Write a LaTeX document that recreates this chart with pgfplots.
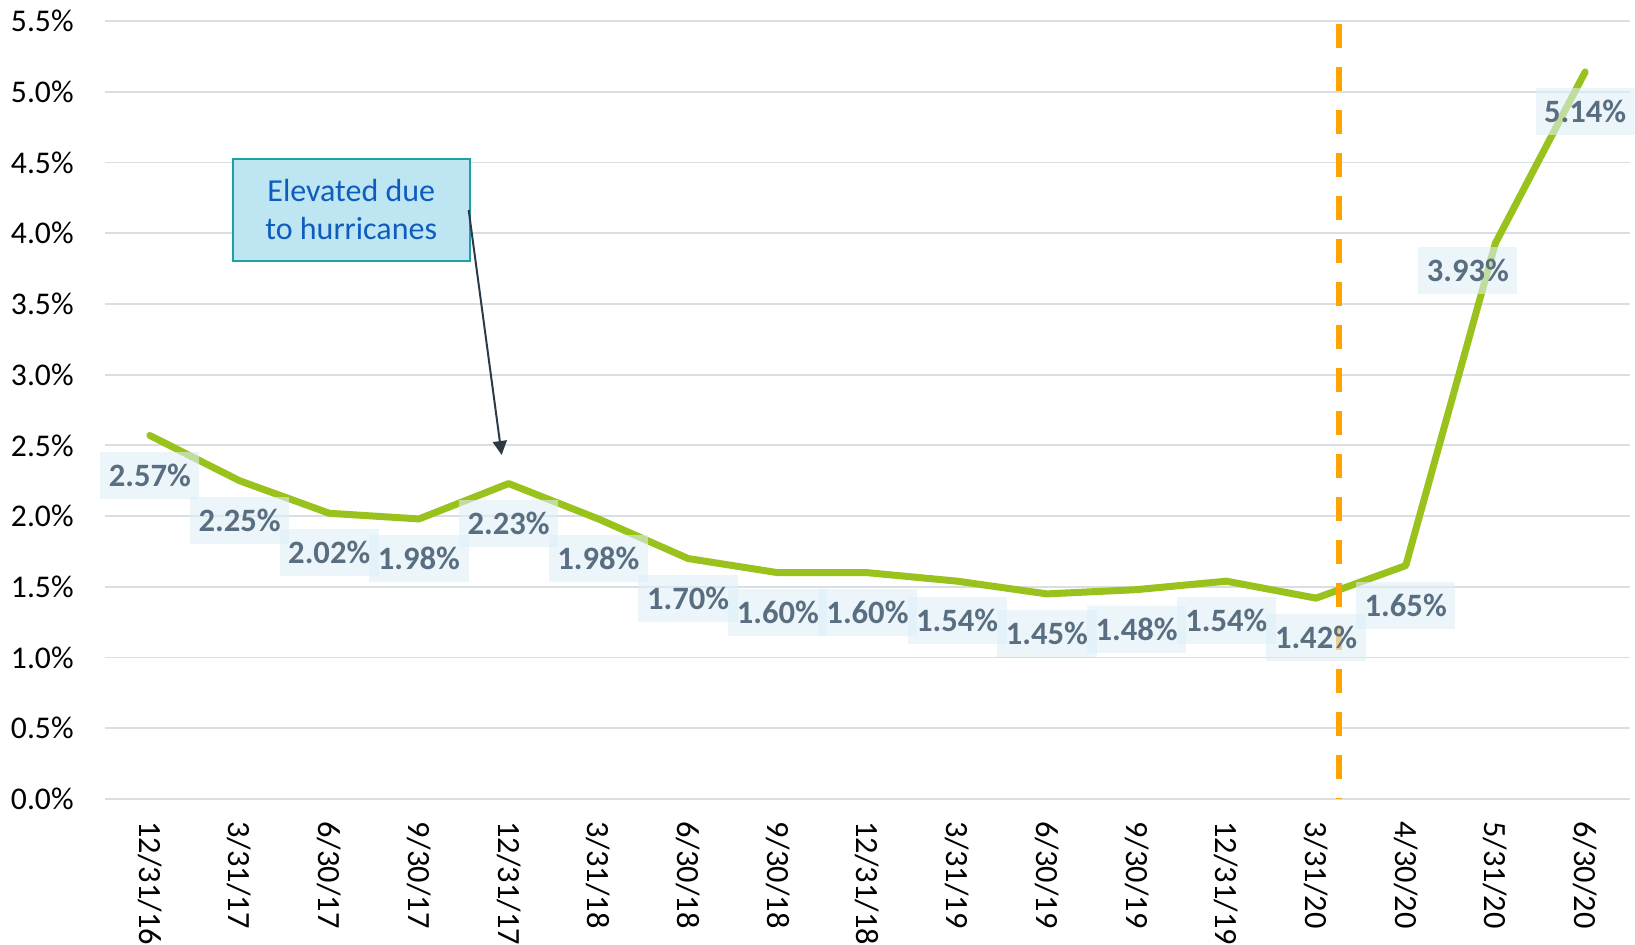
\documentclass[border=0pt]{standalone}
\usepackage{fontspec}
\setmainfont{Carlito}
\usepackage{pgfplots}
\usepackage{pgfplotstable}
\pgfplotsset{compat=1.18}
\usetikzlibrary{arrows.meta}
\definecolor{linegreen}{RGB}{153,194,28}
\definecolor{labelgray}{RGB}{89,110,128}
\definecolor{labelfill}{RGB}{222,238,247}
\definecolor{gridgray}{RGB}{217,222,227}
\definecolor{boxfill}{RGB}{190,230,242}
\definecolor{boxdraw}{RGB}{30,160,165}
\definecolor{boxtext}{RGB}{15,92,191}
\definecolor{arrowc}{RGB}{44,58,70}
\definecolor{dashorange}{RGB}{255,163,0}

\pgfplotstableread{
x y dx dy
0 2.57 0 -19.8
1 2.25 0 -19.8
2 2.02 0 -19.8
3 1.98 0 -19.8
4 2.23 0 -19.8
5 1.98 0 -19.8
6 1.70 0 -19.8
7 1.60 0 -19.8
8 1.60 0 -19.8
9 1.54 0 -19.8
10 1.45 0 -19.8
11 1.48 0 -19.8
12 1.54 0 -19.8
13 1.42 0 -19.8
14 1.65 0 -19.8
15 3.93 -13.8 -13.8
16 5.14 0 -19.8
}\datatable

\begin{document}
\begin{tikzpicture}
\useasboundingbox (-52.5pt,-72.5pt) rectangle (765pt,399.5pt);
\begin{axis}[
  at={(0,0)}, anchor=south west,
  scale only axis, width=762.5pt, height=389pt,
  xmin=-0.5, xmax=16.5, ymin=0, ymax=5.5,
  clip=false,
  axis line style={draw=none},
  tick style={draw=none},
  ymajorgrids, grid style={gridgray, line width=0.9pt},
  ytick={0,0.5,1,1.5,2,2.5,3,3.5,4,4.5,5,5.5},
  yticklabel={\pgfmathprintnumber[fixed,fixed zerofill,precision=1,assume math mode=true]{\tick}\%},
  yticklabel style={font=\fontsize{15.8}{18}\selectfont, anchor=east, inner xsep=0pt, xshift=-15.5pt},
  xtick={0,...,16},
  xticklabels={12/31/16,3/31/17,6/30/17,9/30/17,12/31/17,3/31/18,6/30/18,9/30/18,12/31/18,3/31/19,6/30/19,9/30/19,12/31/19,3/31/20,4/30/20,5/31/20,6/30/20},
  xticklabel style={font=\fontsize{16.2}{18}\selectfont, rotate=-90, anchor=west, inner xsep=11pt},
]
\addplot[linegreen, line width=3.5pt, line join=round, line cap=round, mark=none,
  visualization depends on={\thisrow{dx} \as \labeldx},
  visualization depends on={\thisrow{dy} \as \labeldy},
  nodes near coords={\pgfmathprintnumber[fixed,fixed zerofill,precision=2,assume math mode=true]{\pgfplotspointmeta}\%},
  every node near coord/.append style={font=\fontsize{16.3}{18}\selectfont\bfseries, text=labelgray, fill=labelfill, fill opacity=0.6, text opacity=1, inner xsep=4.3pt, inner ysep=0pt, minimum height=23.5pt, anchor=center, xshift=\labeldx, yshift=\labeldy},
] table[x=x, y=y, meta=y] {\datatable};
\draw[dashorange, line width=3pt, dash pattern=on 12pt off 9.5pt] (axis cs:13.26,5.48) -- (axis cs:13.26,0);
\node[draw=boxdraw, line width=0.9pt, fill=boxfill, minimum width=118.5pt, minimum height=51pt, align=center, text=boxtext, font=\fontsize{16}{19}\selectfont] at (axis cs:2.245,4.164) {Elevated due\\to hurricanes};
\draw[arrowc, line width=1pt, -{Triangle[length=7pt, width=7pt]}] (axis cs:3.554,4.164) -- (axis cs:3.922,2.432);
\end{axis}
\end{tikzpicture}
\end{document}
